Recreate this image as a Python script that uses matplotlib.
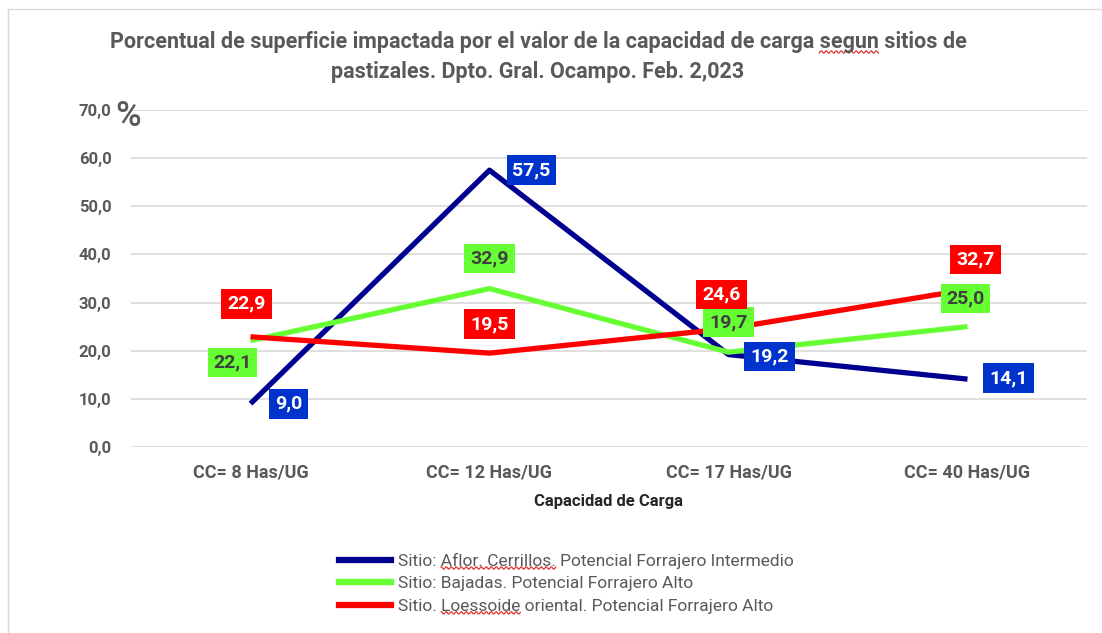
import numpy as np
import matplotlib
matplotlib.use("Agg")
from matplotlib import pyplot as plt
from matplotlib.lines import Line2D
from matplotlib import font_manager

categories = ['CC= 8 Has/UG', 'CC= 12 Has/UG', 'CC= 17 Has/UG', 'CC= 40 Has/UG']
aflor = [9.0, 57.5, 19.2, 14.1]
bajadas = [22.1, 32.9, 19.7, 25.0]
loessoide = [22.9, 19.5, 24.6, 32.7]
series_names = ['Sitio: Aflor. Cerrillos. Potencial Forrajero Intermedio',
                'Sitio: Bajadas. Potencial Forrajero Alto',
                'Sitio. Loessoide oriental. Potencial Forrajero Alto']
title1 = 'Porcentual de superficie impactada por el valor de la capacidad de carga segun sitios de'
title2 = 'pastizales. Dpto. Gral. Ocampo. Feb. 2,023'

# condensed face if available
names = {f.name for f in font_manager.fontManager.ttflist}
narrow = 'Liberation Sans Narrow' if 'Liberation Sans Narrow' in names else 'Roboto'
plt.rcParams['font.family'] = [narrow, 'DejaVu Sans']

grey = '#595959'
blue, green, red = '#000090', '#66FF33', '#FF0000'

W, H = 1102, 633
fig = plt.figure(figsize=(W / 100, H / 100), dpi=100)
ax = fig.add_axes([131 / W, 1 - 447 / H, (1087 - 131) / W, (447 - 110) / H])

x = np.arange(len(categories))
ax.plot(x, aflor, color=blue, lw=3.8, zorder=3, solid_capstyle='butt')
ax.plot(x, bajadas, color=green, lw=3.8, zorder=4, solid_capstyle='butt')
ax.plot(x, loessoide, color=red, lw=3.8, zorder=5, solid_capstyle='butt')

ax.set_xlim(-0.5, 3.5)
ax.set_ylim(0, 70)
ax.set_yticks(np.arange(0, 71, 10))
ax.set_yticklabels([f'{v:.1f}'.replace('.', ',') for v in np.arange(0, 71, 10)])
ax.set_xticks(x)
ax.set_xticklabels(categories)
ax.grid(axis='y', color='#D9D9D9', lw=1.2)
ax.set_axisbelow(True)
for s in ax.spines.values():
    s.set_visible(False)
ax.tick_params(length=0)
ax.tick_params(axis='y', pad=14, labelsize=12, labelcolor=grey)
ax.tick_params(axis='x', pad=12, labelsize=13, labelcolor=grey)
for t in ax.get_xticklabels() + ax.get_yticklabels():
    t.set_fontweight('bold')
ax.set_xlabel('Capacidad de Carga', fontsize=12, fontweight='bold', color='#262626', labelpad=9)

fig.text(115 / W, 1 - 116 / H, '%', fontsize=25, fontweight='medium', color=grey,
         ha='left', va='center')

t1 = fig.text(538 / W, 1 - 42 / H, title1, fontsize=15.5, fontweight='bold',
              color=grey, ha='center', va='center')
fig.text(538 / W, 1 - 72 / H, title2, fontsize=15.5, fontweight='bold',
         color=grey, ha='center', va='center')


def fmt(v):
    return f'{v:.1f}'.replace('.', ',')


# label offsets in pixels (dx, dy)
aflor_off = [(38, 0), (42, 0), (41, -2), (41, 1)]
bajadas_off = [(-18, -22), (0, 30), (0, 30), (-2, 28)]
loessoide_off = [(-4, 33), (0, 29), (-7, 34), (8, 30)]

for vals, offs, face, txt in [(aflor, aflor_off, '#0033CC', 'white'),
                              (bajadas, bajadas_off, green, '#404040'),
                              (loessoide, loessoide_off, red, 'white')]:
    for xi, v, (dx, dy) in zip(x, vals, offs):
        ax.annotate(fmt(v), (xi, v), xytext=(dx, dy), textcoords='offset pixels',
                    ha='center', va='center', fontsize=14, fontweight='bold', color=txt,
                    bbox=dict(boxstyle='square,pad=0.3', fc=face, ec='none'), zorder=10)

handles = [Line2D([], [], color=c, lw=4.5) for c in (blue, green, red)]
leg = fig.legend(handles, series_names, loc='upper left', bbox_to_anchor=(332 / W, 1 - 546 / H),
                 frameon=False, fontsize=12.5, labelcolor=grey, handlelength=3.0,
                 handletextpad=0.4, labelspacing=0.42, borderaxespad=0)

# thin frame line on top and left
fig.add_artist(Line2D([8 / W, 1], [1 - 9 / H, 1 - 9 / H], color='#D9D9D9', lw=1))
fig.add_artist(Line2D([8 / W, 8 / W], [0, 1 - 9 / H], color='#D9D9D9', lw=1))

# red wavy spell-check underline under some words
fig.canvas.draw()
rend = fig.canvas.get_renderer()


def squiggle(txt, word):
    s = txt.get_text()
    i = s.index(word)
    prop = txt.get_fontproperties()
    w0 = rend.get_text_width_height_descent(s[:i], prop, ismath=False)[0] if i else 0
    w1 = rend.get_text_width_height_descent(s[:i + len(word)], prop, ismath=False)[0]
    bb = txt.get_window_extent(rend)
    xs = np.linspace(bb.x0 + w0, bb.x0 + w1, int(w1 - w0) + 1)
    ys = bb.y0 + 1 + 1.3 * np.sin(xs * np.pi / 2.5)
    fig.add_artist(Line2D(xs / W, ys / H, color='#E02020', lw=0.8))


squiggle(t1, 'segun')
squiggle(leg.get_texts()[0], 'Aflor. Cerrillos.')
squiggle(leg.get_texts()[2], 'Loessoide')

fig.savefig('out.png', dpi=100)
